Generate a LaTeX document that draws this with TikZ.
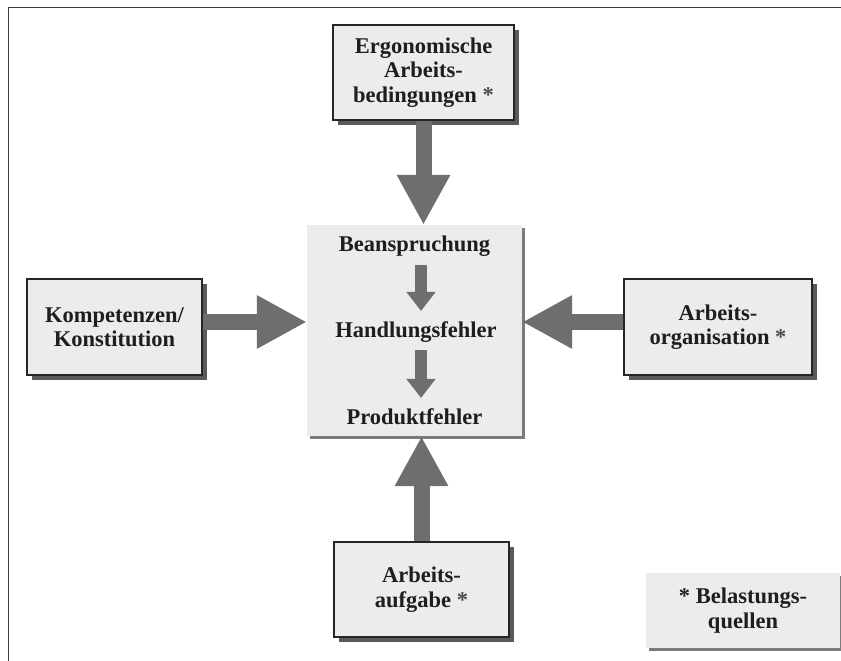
\documentclass[tikz,border=0pt]{standalone}
\usepackage{fontspec}
\setmainfont{Liberation Serif}
\usetikzlibrary{arrows.meta,shadows}
\definecolor{boxfill}{HTML}{ECECEC}
\definecolor{shadowcol}{HTML}{5A5A5A}
\definecolor{arrowcol}{HTML}{6E6E6E}
\definecolor{framecol}{HTML}{3C3C3C}
\definecolor{textcol}{HTML}{1E1E1E}
\definecolor{starcol}{HTML}{4A4A4A}
\begin{document}
\begin{tikzpicture}[x=1pt,y=-1pt,
  every node/.style={font=\fontsize{22.5}{24.5}\selectfont\bfseries, text=textcol},
  outerbox/.style={draw=black!85, line width=1.4pt, fill=boxfill, align=center, inner sep=0pt,
    general shadow={fill=shadowcol, shadow xshift=5pt, shadow yshift=-5pt}},
  softbox/.style={fill=boxfill, align=center, inner sep=0pt,
    general shadow={fill=shadowcol!80, shadow xshift=3pt, shadow yshift=-3pt}},
  bigarrow/.style={draw=arrowcol, line width=16pt, -{Triangle[width=50pt,length=50pt]}},
  smallarrow/.style={draw=arrowcol, line width=12pt, -{Triangle[width=28pt,length=19pt]}},
  textline/.style={anchor=base, inner sep=0pt}
]
\useasboundingbox (0,0) rectangle (841,661);
\draw[framecol, line width=1.5pt] (8.5,661) -- (8.5,7.5) -- (841,7.5);

% boxes
\node[outerbox, minimum width=181pt, minimum height=95pt] (ergo) at (423.5,72.5)
  {Ergonomische\\Arbeits-\\bedingungen \textcolor{starcol}{*}};
\node[outerbox, minimum width=175pt, minimum height=96pt] (komp) at (114.5,327)
  {Kompetenzen/\\Konstitution};
\node[outerbox, minimum width=188pt, minimum height=96pt] (org) at (718,327)
  {Arbeits-\\organisation \textcolor{starcol}{*}};
\node[outerbox, minimum width=175pt, minimum height=95pt] (aufg) at (421.5,589.5)
  {Arbeits-\\aufgabe \textcolor{starcol}{*}};
\node[softbox, minimum width=215pt, minimum height=211pt] (mid) at (414.5,330.5) {};
\node[softbox, minimum width=194pt, minimum height=75pt] (leg) at (743,610.5)
  {* Belastungs-\\quellen};

% texts inside the central box
\node[textline] (bean) at (414.5,251) {Beanspruchung};
\node[textline] (hand) at (416,337) {Handlungsfehler};
\node[textline] (prod) at (414.5,424) {Produktfehler};

% big arrows
\draw[bigarrow] (ergo.south) -- (ergo.south |- mid.north);
\draw[bigarrow] ([yshift=5pt]komp.east) -- ([yshift=5pt]komp.east -| mid.west);
\draw[bigarrow] ([yshift=5pt]org.west) -- ([yshift=5pt]org.west -| mid.east);
\draw[bigarrow] (aufg.north) -- (aufg.north |- mid.south);

% small arrows
\draw[smallarrow] ([xshift=6.5pt,yshift=-9pt]bean.south) -- ([xshift=6.5pt,yshift=10pt]bean.south |- hand.north);
\draw[smallarrow] ([xshift=5pt,yshift=-8pt]hand.south) -- ([xshift=5pt,yshift=10pt]hand.south |- prod.north);
\end{tikzpicture}
\end{document}
